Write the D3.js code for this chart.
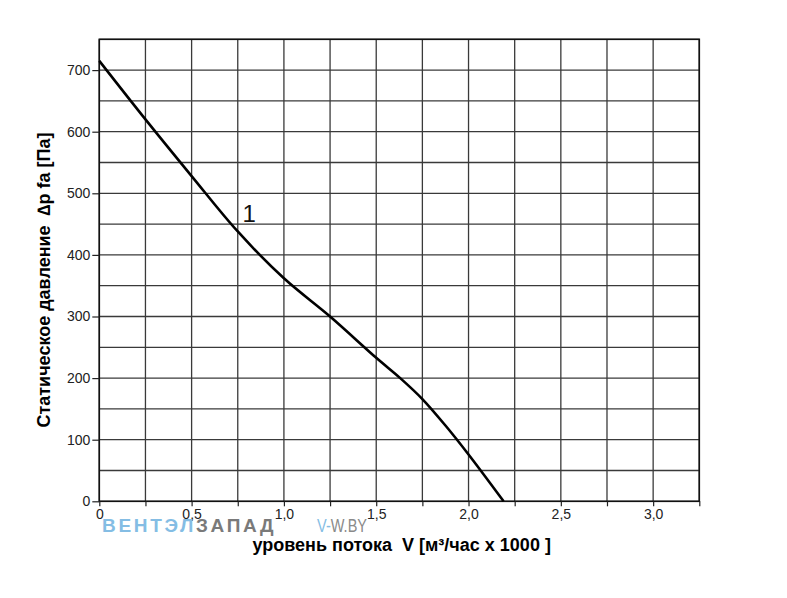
<!DOCTYPE html>
<html>
<head>
<meta charset="utf-8">
<script src="https://cdn.jsdelivr.net/npm/d3@7"></script>
<style>
  html, body { margin: 0; padding: 0; background: #fff; }
  svg { display: block; font-family: "Liberation Sans", Arial, sans-serif; }
  text { white-space: pre; }
</style>
</head>
<body>
<svg id="chart" width="787" height="598"></svg>
<script>
// ---- data ----
const flowValues = [0, 0.25, 0.5, 0.75, 1.0, 1.25, 1.5, 1.63, 1.75, 1.875, 2.0, 2.19];
const pressureValues = [715, 620, 528, 438, 362, 300, 233, 200, 166, 123, 76, 0];
const xTickValues = [0, 0.5, 1.0, 1.5, 2.0, 2.5, 3.0];
const xTickLabels = ["0", "0,5", "1,0", "1,5", "2,0", "2,5", "3,0"];
const xGridValues = [0, 0.25, 0.5, 0.75, 1.0, 1.25, 1.5, 1.75, 2.0, 2.25, 2.5, 2.75, 3.0, 3.25];
const yTickValues = [0, 100, 200, 300, 400, 500, 600, 700];
const yGridValues = [0, 50, 100, 150, 200, 250, 300, 350, 400, 450, 500, 550, 600, 650, 700, 750];
const curveLabel = "1";
const xTitle = "уровень потока  V [м³/час x 1000 ]";
const yTitle = "Статическое давление  \u2206p fa [Па]";

// ---- layout ----
const FONT = "'Liberation Sans', Arial, sans-serif";
const svg = d3.select("#chart");
const mLeft = 99.3, mRight = 699.3, mTop = 39.3, mBottom = 501.3;
const x = d3.scaleLinear().domain([0, 3.25]).range([mLeft, mRight]);
const y = d3.scaleLinear().domain([0, 750]).range([mBottom, mTop]);

// grid
const grid = svg.append("g");
grid.selectAll("line.h").data(yGridValues).join("line").attr("class", "h")
  .attr("x1", mLeft).attr("x2", mRight)
  .attr("y1", d => y(d)).attr("y2", d => y(d))
  .attr("stroke", "#3a3a3a").attr("stroke-width", 1.3);
grid.selectAll("line.v").data(xGridValues).join("line").attr("class", "v")
  .attr("y1", mTop).attr("y2", mBottom)
  .attr("x1", d => x(d)).attr("x2", d => x(d))
  .attr("stroke", "#3a3a3a").attr("stroke-width", 1.3);

// frame
svg.append("rect").attr("x", mLeft).attr("y", mTop)
  .attr("width", mRight - mLeft).attr("height", mBottom - mTop)
  .attr("fill", "none").attr("stroke", "#111").attr("stroke-width", 1.6);

// y axis
const yAxis = d3.axisLeft(y).tickValues(yTickValues).tickSize(7).tickPadding(2)
  .tickFormat(d3.format("d"));
const gy = svg.append("g").attr("transform", `translate(${mLeft},0)`).call(yAxis);
gy.attr("font-family", FONT);
gy.select(".domain").remove();
gy.selectAll("line").attr("stroke", "#222").attr("stroke-width", 1.2);
gy.selectAll("text").attr("font-size", 14).attr("fill", "#222");

// x axis ticks (every 0.25)
const xAxisMinor = d3.axisBottom(x).tickValues(xGridValues).tickSize(5).tickFormat("");
const gxm = svg.append("g").attr("transform", `translate(0,${mBottom})`).call(xAxisMinor);
gxm.select(".domain").remove();
gxm.selectAll("line").attr("stroke", "#222").attr("stroke-width", 1.2);

// x axis labels
const xAxis = d3.axisBottom(x).tickValues(xTickValues).tickSize(0).tickPadding(8)
  .tickFormat((d, i) => xTickLabels[i]);
const gx = svg.append("g").attr("transform", `translate(0,${mBottom})`).call(xAxis);
gx.attr("font-family", FONT);
gx.select(".domain").remove();
gx.selectAll("text").attr("font-size", 14).attr("fill", "#222");

// curve
const line = d3.line().x((d, i) => x(flowValues[i])).y(d => y(d))
  .curve(d3.curveCatmullRom.alpha(0.5));
svg.append("path").datum(pressureValues)
  .attr("d", line).attr("fill", "none")
  .attr("stroke", "#000").attr("stroke-width", 2.6);

// curve label
svg.append("text").attr("x", x(0.775)).attr("y", y(453))
  .attr("font-family", FONT)
  .attr("font-size", 24).attr("fill", "#111").text(curveLabel);

// watermark
const wm = svg.append("text").attr("x", 102).attr("y", 532).attr("font-family", FONT)
  .attr("font-size", 19).attr("font-weight", "bold").attr("letter-spacing", 3.4)
  .attr("textLength", 175).attr("lengthAdjust", "spacing");
wm.append("tspan").attr("fill", "#84bde4").text("ВЕНТЭЛ");
wm.append("tspan").attr("fill", "#7a7a7a").text("ЗАПАД");
const wm2 = svg.append("text").attr("x", 317).attr("y", 532).attr("font-family", FONT)
  .attr("font-size", 18)
  .attr("textLength", 50).attr("lengthAdjust", "spacingAndGlyphs");
wm2.append("tspan").attr("fill", "#84bde4").text("V-");
wm2.append("tspan").attr("fill", "#8a8a8a").text("W.BY");

// axis titles
svg.append("text").attr("x", 401.7).attr("y", 551).attr("font-family", FONT)
  .attr("text-anchor", "middle").attr("font-size", 18).attr("font-weight", "bold")
  .attr("fill", "#000").text(xTitle);
svg.append("text").attr("font-family", FONT)
  .attr("transform", "translate(49.5,280) rotate(-90)")
  .attr("text-anchor", "middle").attr("font-size", 18).attr("font-weight", "bold")
  .attr("fill", "#000").text(yTitle);
</script>
</body>
</html>
